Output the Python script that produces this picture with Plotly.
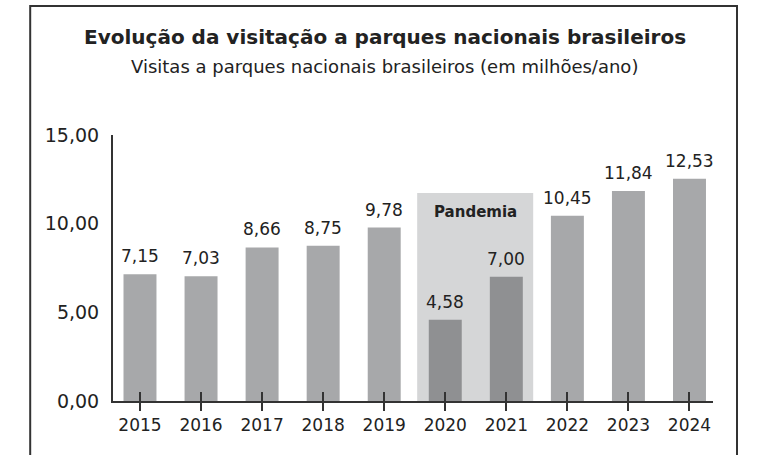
import plotly.graph_objects as go

anos = ["2015", "2016", "2017", "2018", "2019", "2020", "2021", "2022", "2023", "2024"]
visitas = [7.15, 7.03, 8.66, 8.75, 9.78, 4.58, 7.00, 10.45, 11.84, 12.53]
pandemia = ["2020", "2021"]
y_ticks = [0, 5, 10, 15]
y_tick_labels = ["0,00", "5,00", "10,00", "15,00"]

FONT = "DejaVu Sans"
TXT = "#222222"

pos = list(range(len(anos)))
cores = ["#8f9092" if a in pandemia else "#a7a8aa" for a in anos]
rotulos = [f"{v:.2f}".replace(".", ",") for v in visitas]

fig = go.Figure()

# faixa da pandemia
idx_p = [anos.index(a) for a in pandemia]
fig.add_shape(type="rect", xref="x", yref="y",
              x0=min(idx_p) - 0.46, x1=max(idx_p) + 0.44, y0=0, y1=11.73,
              fillcolor="#d5d6d7", line_width=0, layer="below")
fig.add_annotation(x=(min(idx_p) + max(idx_p)) / 2, y=10.66, text="<b>Pandemia</b>",
                   showarrow=False, font=dict(family=FONT, size=15, color=TXT))

fig.add_trace(go.Bar(x=pos, y=visitas, width=0.54, marker_color=cores,
                     marker_line_width=0, hoverinfo="skip"))

for p, v, r in zip(pos, visitas, rotulos):
    fig.add_annotation(x=p, y=v, text=r, showarrow=False, yanchor="bottom", yshift=6,
                       font=dict(family=FONT, size=17, color=TXT))

# titulo e subtitulo
fig.add_annotation(xref="paper", yref="paper", x=0.453, y=1.368, yanchor="middle",
                   text="<b>Evolução da visitação a parques nacionais brasileiros</b>",
                   showarrow=False, font=dict(family=FONT, size=20, color=TXT))
fig.add_annotation(xref="paper", yref="paper", x=0.453, y=1.256, yanchor="middle",
                   text="Visitas a parques nacionais brasileiros (em milhões/ano)",
                   showarrow=False, font=dict(family=FONT, size=18, color=TXT))

# moldura
fig.add_shape(type="path", xref="paper", yref="paper",
              path="M -0.138 -0.3 L -0.138 1.485 L 1.04 1.485 L 1.04 -0.3",
              line=dict(color="#333333", width=2))

fig.update_layout(
    width=764, height=455,
    margin=dict(l=113, r=51, t=135, b=54),
    paper_bgcolor="white", plot_bgcolor="white",
    showlegend=False,
    font=dict(family=FONT, color=TXT),
    xaxis=dict(range=[-0.442, 9.385], tickvals=pos, ticktext=anos,
               showline=True, linecolor="#333333", linewidth=2,
               ticks="outside", ticklen=8, tickwidth=2, tickcolor="#333333",
               showgrid=False, zeroline=False,
               tickfont=dict(family=FONT, size=17, color=TXT)),
    xaxis2=dict(range=[-0.442, 9.385], tickvals=pos, overlaying="x",
                ticks="inside", ticklen=9, tickwidth=2, tickcolor="#333333",
                showticklabels=False, showgrid=False, zeroline=False, side="bottom"),
    yaxis=dict(range=[0, 15], tickvals=y_ticks, ticktext=y_tick_labels,
               showline=True, linecolor="#333333", linewidth=2,
               ticks="", showgrid=False, zeroline=False, ticklabelstandoff=8,
               tickfont=dict(family=FONT, size=19, color=TXT)),
)

fig.add_trace(go.Scatter(x=[0], y=[0], xaxis="x2", mode="markers",
                         marker=dict(opacity=0), hoverinfo="skip"))

fig.write_html("out.html", config={"displayModeBar": False},
               post_script="document.body.style.margin='0';")
